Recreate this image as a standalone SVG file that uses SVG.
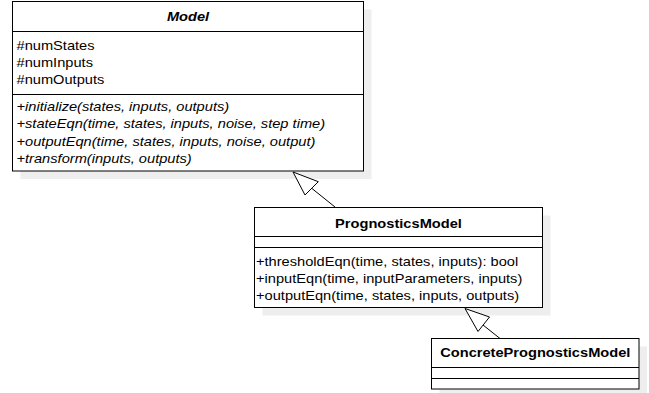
<svg xmlns="http://www.w3.org/2000/svg" width="649" height="393" viewBox="0 0 649 393">
<style>
.bg{fill:#fff}
.sh{fill:#eeeeee}
.box{fill:#fff;stroke:#000;stroke-width:1}
.div{stroke:#000;stroke-width:1}
.t{font-family:"Liberation Sans",Arial,sans-serif;font-size:12px;fill:#000}
.b{font-weight:bold}
.i{font-style:italic}
.c{text-anchor:middle}
.edge{stroke:#000;stroke-width:1;fill:none}
.head{fill:#fff;stroke:#000;stroke-width:1}
</style>
<rect class="bg" x="0" y="0" width="649" height="393"/>
<g id="model">
<rect class="sh" x="20.5" y="9.5" width="351" height="169.5"/>
<rect class="box" x="12.5" y="1.5" width="351" height="169.5"/>
<line class="div" x1="12.5" y1="31.5" x2="363.5" y2="31.5"/>
<line class="div" x1="12.5" y1="94.5" x2="363.5" y2="94.5"/>
<text class="t b i c" transform="translate(188,21) scale(1.22,1)">Model</text>
<text class="t" transform="translate(16.5,50) scale(1.22,1)">#numStates</text>
<text class="t" transform="translate(16.5,67) scale(1.22,1)">#numInputs</text>
<text class="t" transform="translate(16.5,84) scale(1.22,1)">#numOutputs</text>
<text class="t i" transform="translate(16.5,111) scale(1.22,1)">+initialize(states, inputs, outputs)</text>
<text class="t i" transform="translate(16.5,128.2) scale(1.22,1)">+stateEqn(time, states, inputs, noise, step time)</text>
<text class="t i" transform="translate(16.5,145.5) scale(1.22,1)">+outputEqn(time, states, inputs, noise, output)</text>
<text class="t i" transform="translate(16.5,162.7) scale(1.22,1)">+transform(inputs, outputs)</text>
</g>
<g id="prognosticsmodel">
<rect class="sh" x="262.5" y="215.5" width="288" height="100"/>
<rect class="box" x="254.5" y="207.5" width="288" height="100"/>
<line class="div" x1="254.5" y1="236.5" x2="542.5" y2="236.5"/>
<line class="div" x1="254.5" y1="247.5" x2="542.5" y2="247.5"/>
<text class="t b c" transform="translate(398.5,227.8) scale(1.22,1)">PrognosticsModel</text>
<text class="t" transform="translate(256,266) scale(1.22,1)">+thresholdEqn(time, states, inputs): bool</text>
<text class="t" transform="translate(256,282.8) scale(1.22,1)">+inputEqn(time, inputParameters, inputs)</text>
<text class="t" transform="translate(256,299.5) scale(1.22,1)">+outputEqn(time, states, inputs, outputs)</text>
</g>
<g id="concreteprognosticsmodel">
<rect class="sh" x="439.5" y="346.5" width="207.5" height="50.5"/>
<rect class="box" x="431.5" y="338.5" width="207.5" height="50.5"/>
<line class="div" x1="431.5" y1="367.5" x2="639" y2="367.5"/>
<line class="div" x1="431.5" y1="378.5" x2="639" y2="378.5"/>
<text class="t b c" transform="translate(535.3,356.8) scale(1.22,1)">ConcretePrognosticsModel</text>
</g>
<g id="connectors">
<line class="edge" x1="335" y1="207" x2="311.7" y2="188.3"/>
<polygon class="head" points="293,172 318.3,181.7 305,195"/>
<line class="edge" x1="500" y1="338.5" x2="483" y2="325"/>
<polygon class="head" points="465,308.5 489.5,317 478,331.5"/>
</g>
</svg>
